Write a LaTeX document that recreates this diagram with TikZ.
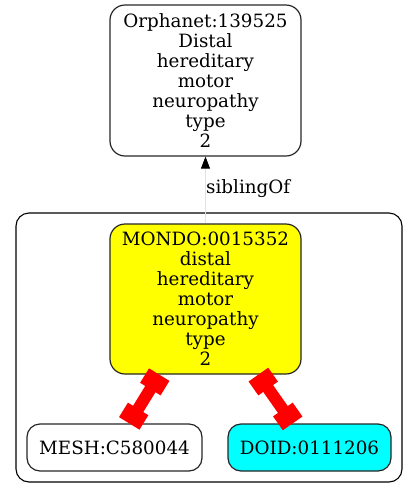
\documentclass[tikz,border=0pt]{standalone}
\usepackage{fontspec}
\setmainfont{DejaVu Serif}
\usetikzlibrary{arrows.meta}
\definecolor{nodeyellow}{RGB}{255,255,0}
\definecolor{nodecyan}{RGB}{0,255,255}
\definecolor{edgered}{RGB}{255,0,0}
\definecolor{sibgray}{RGB}{225,225,225}
\begin{document}
\begin{tikzpicture}[x=1pt,y=-1pt,
  nodebox/.style={draw=black!85, line width=1.2pt, rounded corners=15pt, inner sep=0pt, align=center, font=\fontsize{18.3}{20}\selectfont},
  clusterbox/.style={draw=black, line width=1.1pt, rounded corners=13pt},
  sibedge/.style={draw=sibgray, line width=0.8pt, -{Triangle[length=12pt,width=9pt,fill=black,color=black]}},
  redge/.style={draw=edgered, line width=12pt, {Square[length=17pt,width=24pt]}-{Square[length=17pt,width=24pt]}},
  elabel/.style={font=\fontsize{18.3}{20}\selectfont, anchor=west, inner sep=0pt}]
\useasboundingbox (0,0) rectangle (419,499);
\draw[clusterbox] (16,213) rectangle (402,482);
\node[nodebox, minimum width=191pt, minimum height=151pt] (orph) at (205.5,80.5)
  {Orphanet:139525\\Distal\\hereditary\\motor\\neuropathy\\type\\2};
\node[nodebox, fill=nodeyellow, minimum width=191pt, minimum height=150pt] (mondo) at (205.5,299)
  {MONDO:0015352\\distal\\hereditary\\motor\\neuropathy\\type\\2};
\node[nodebox, rounded corners=13pt, minimum width=175pt, minimum height=47pt] (mesh) at (114.5,447.5) {MESH:C580044};
\node[nodebox, rounded corners=13pt, fill=nodecyan, minimum width=163pt, minimum height=47pt] (doid) at (309.5,447.5) {DOID:0111206};
\draw[sibedge] (mondo.north) -- (orph.south);
\node[elabel] (sib) at (206,189) {siblingOf};
\draw[redge] (mondo) -- (mesh);
\draw[redge] (mondo) -- (doid);
\end{tikzpicture}
\end{document}
